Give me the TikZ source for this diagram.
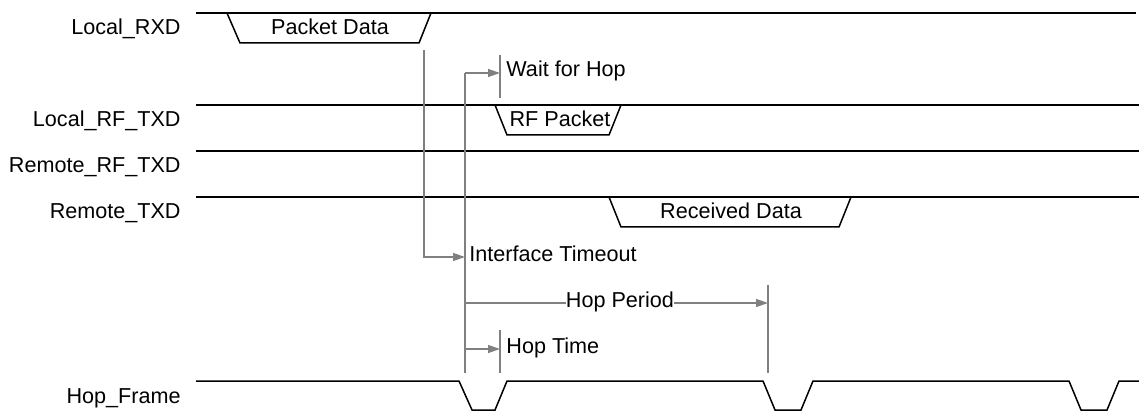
\documentclass[tikz,border=0pt]{standalone}
\usepackage{fontspec}
\setmainfont{Liberation Sans}
\usetikzlibrary{arrows.meta}

\begin{document}
\begin{tikzpicture}[
    x=0.5pt, y=-0.5pt,
    font=\fontsize{10.8}{13}\selectfont,
    signal/.style={draw=black, line width=0.75pt},
    marker/.style={draw=gray, line width=0.65pt},
    timing/.style={marker, -{Triangle[length=6pt, width=4pt]}},
    sigLabel/.style={anchor=base east, inner sep=0pt},
    dataLabel/.style={anchor=base, inner sep=0pt},
    noteLabel/.style={anchor=base west, inner sep=0pt}
]
\useasboundingbox (0,0) rectangle (1139,411);

\node (LocalRXD) [sigLabel] at (181,35) {Local\_RXD};
\node (LocalRFTXD) [sigLabel] at (181,127) {Local\_RF\_TXD};
\node (RemoteRFTXD) [sigLabel] at (181,173) {Remote\_RF\_TXD};
\node (RemoteTXD) [sigLabel] at (181,219) {Remote\_TXD};
\node (HopFrame) [sigLabel] at (181,403) {Hop\_Frame};

\draw[signal] (196,13) -- (1136,13);
\draw[signal] (227,13) -- (240,43) -- (419,43) -- (431,13);
\node (PacketData) [dataLabel] at (330,35) {Packet Data};

\draw[signal] (196,105) -- (1139,105);
\draw[signal] (495,105) -- (507,135) -- (609,135) -- (621,105);
\node (RFPacket) [dataLabel] at (560,127) {RF Packet};

\draw[signal] (196,151) -- (1139,151);

\draw[signal] (196,197) -- (1139,197);
\draw[signal] (609,197) -- (621,227) -- (839,227) -- (851,197);
\node (ReceivedData) [dataLabel] at (731,219) {Received Data};

\draw[signal] (196,381) -- (459,381) -- (472,410) -- (495,410) -- (507,381)
  -- (763,381) -- (775,410) -- (801,410) -- (813,381)
  -- (1069,381) -- (1081,410) -- (1107,410) -- (1119,381) -- (1139,381);

\coordinate (RxdEnd) at (424,50);
\coordinate (Timeout) at (465,257);
\coordinate (HopTop) at (465,73);
\coordinate (HopBottom) at (465,373);
\coordinate (WaitTop) at (500,55);
\coordinate (WaitBottom) at (500,98);
\coordinate (HopTimeTop) at (500,330);
\coordinate (HopTimeBottom) at (500,373);
\coordinate (PeriodTop) at (768,285);
\coordinate (PeriodBottom) at (768,373);

\draw[marker] (HopTop) -- (HopBottom);
\draw[marker] (WaitTop) -- (WaitBottom);
\draw[marker] (HopTimeTop) -- (HopTimeBottom);
\draw[marker] (PeriodTop) -- (PeriodBottom);

\draw[timing] (RxdEnd) |- (Timeout);
\draw[timing] (HopTop) -- (WaitTop |- HopTop);
\draw[timing] (465,303) -- (PeriodTop |- 0,303);
\draw[timing] (465,349) -- (HopTimeTop |- 0,349);

\node (WaitHop) [noteLabel] at (506,77) {Wait for Hop};
\node (TimeoutText) [noteLabel] at (469,261) {Interface Timeout};
\node (HopPeriod) [dataLabel, fill=white] at (620,307) {Hop Period};
\node (HopTime) [noteLabel] at (506,353) {Hop Time};

\end{tikzpicture}
\end{document}
